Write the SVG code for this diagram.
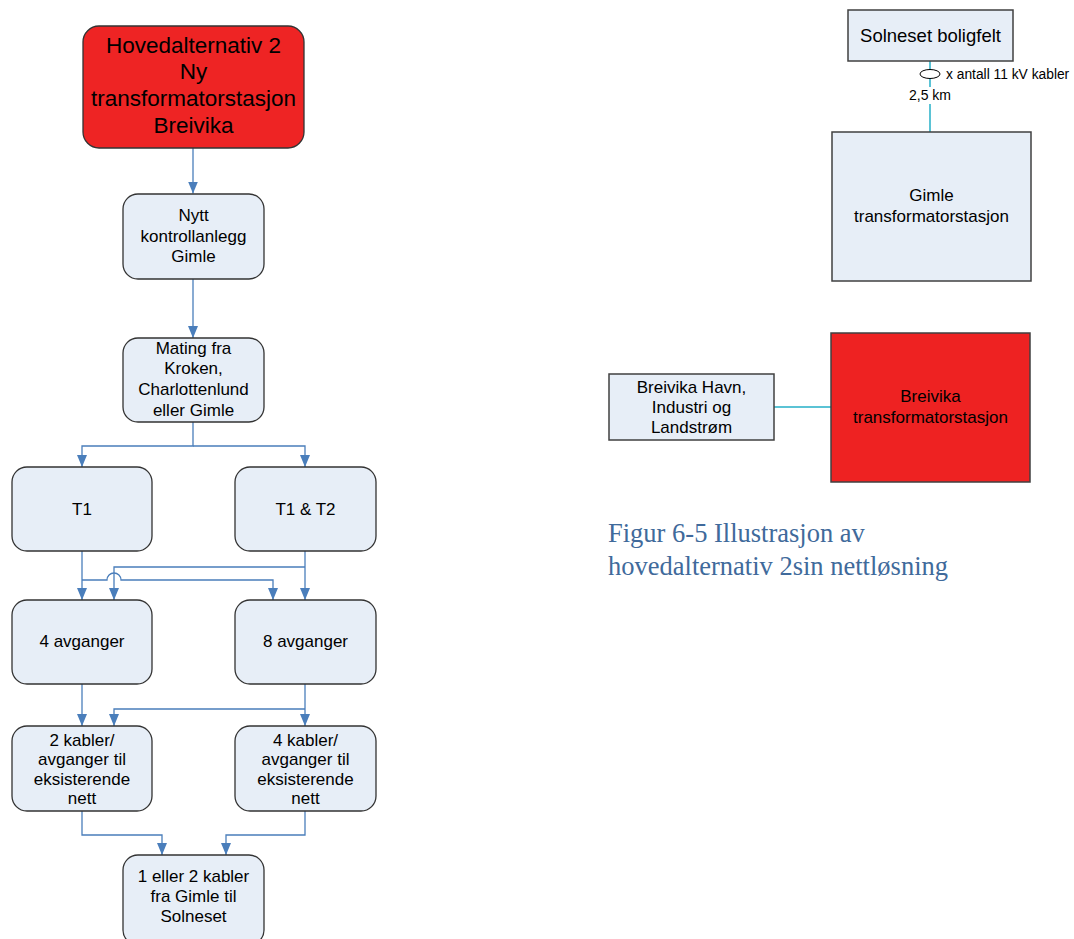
<svg xmlns="http://www.w3.org/2000/svg" width="1074" height="939" viewBox="0 0 1074 939">
<style>
.box{fill:#e7eef7;stroke:#333;stroke-width:1.3}
.red{fill:#ee2424;stroke:#333;stroke-width:1.3}
.rbox{fill:#e7eef7;stroke:#404040;stroke-width:1.5}
.rred{fill:#ee2222;stroke:#404040;stroke-width:1.5}
.t{font-family:"Liberation Sans",Arial,sans-serif;font-size:17px;fill:#000;text-anchor:middle}
.big{font-size:22.5px}
.con{fill:none;stroke:#4a7ebb;stroke-width:1.3}
.cab{fill:none;stroke:#5bc3d5;stroke-width:2}
.cap{font-family:"Liberation Serif","Times New Roman",serif;font-size:26.5px;fill:#406a9b}
</style>
<defs>
<marker id="ah" viewBox="0 0 12 10" markerWidth="12" markerHeight="10" markerUnits="userSpaceOnUse" refX="12" refY="5" orient="auto">
<path d="M0,0 L12,5 L0,10 z" fill="#4a7ebb"/>
</marker>
</defs>
<rect width="1074" height="939" fill="#fff"/>

<g id="connectors">
<path class="con" d="M193,148 V193.5" marker-end="url(#ah)"/>
<path class="con" d="M193,279 V338" marker-end="url(#ah)"/>
<path class="con" d="M193,422 V446 H82 V467" marker-end="url(#ah)"/>
<path class="con" d="M193,446 H305 V467" marker-end="url(#ah)"/>
<path class="con" d="M82,551 V600" marker-end="url(#ah)"/>
<path class="con" d="M82,580 H107 A7,7 0 0 1 121,580 H273 V600" marker-end="url(#ah)"/>
<path class="con" d="M305,551 V600" marker-end="url(#ah)"/>
<path class="con" d="M305,567 H114 V600" marker-end="url(#ah)"/>
<path class="con" d="M82,684 V726" marker-end="url(#ah)"/>
<path class="con" d="M305,684 V726" marker-end="url(#ah)"/>
<path class="con" d="M305,709 H114 V726" marker-end="url(#ah)"/>
<path class="con" d="M82,811 V835 H162 V855" marker-end="url(#ah)"/>
<path class="con" d="M305,811 V835 H226 V855" marker-end="url(#ah)"/>
<path class="cab" d="M930,61 V132"/>
<path class="cab" d="M774,407 H831"/>
<rect x="911" y="87" width="38" height="17" fill="#fff"/>
<ellipse cx="930" cy="74" rx="10" ry="4.5" fill="#fff" stroke="#000" stroke-width="1"/>
<text x="946" y="78.5" style="font-family:'Liberation Sans',Arial,sans-serif;font-size:13.8px;fill:#000">x antall 11 kV kabler</text>
<text x="930" y="100" class="t" style="font-size:14px">2,5 km</text>
</g>

<g id="n-hoved">
<rect class="red" x="83" y="26" width="221" height="122" rx="16"/>
<text class="t big" x="193.5" y="52.5">Hovedalternativ 2</text>
<text class="t big" x="193.5" y="79">Ny</text>
<text class="t big" x="193.5" y="105.5">transformatorstasjon</text>
<text class="t big" x="193.5" y="132.5">Breivika</text>
</g>
<g id="n-kontroll">
<rect class="box" x="123" y="194" width="141" height="85" rx="15"/>
<text class="t" x="193.5" y="221">Nytt</text>
<text class="t" x="193.5" y="241.5">kontrollanlegg</text>
<text class="t" x="193.5" y="262">Gimle</text>
</g>
<g id="n-mating">
<rect class="box" x="123" y="338" width="141" height="84" rx="15"/>
<text class="t" x="193.5" y="353.5">Mating fra</text>
<text class="t" x="193.5" y="374">Kroken,</text>
<text class="t" x="193.5" y="395">Charlottenlund</text>
<text class="t" x="193.5" y="415.5">eller Gimle</text>
</g>
<g id="n-t1">
<rect class="box" x="12" y="467" width="140" height="84" rx="15"/>
<text class="t" x="82" y="514.5">T1</text>
</g>
<g id="n-t1t2">
<rect class="box" x="235" y="467" width="141" height="84" rx="15"/>
<text class="t" x="305.5" y="514.5">T1 &amp; T2</text>
</g>
<g id="n-4avg">
<rect class="box" x="12" y="600" width="140" height="84" rx="15"/>
<text class="t" x="82" y="647">4 avganger</text>
</g>
<g id="n-8avg">
<rect class="box" x="235" y="600" width="141" height="84" rx="15"/>
<text class="t" x="305.5" y="647">8 avganger</text>
</g>
<g id="n-2kab">
<rect class="box" x="12" y="726" width="140" height="85" rx="15"/>
<text class="t" x="82" y="745.5">2 kabler/</text>
<text class="t" x="82" y="765">avganger til</text>
<text class="t" x="82" y="784.5">eksisterende</text>
<text class="t" x="82" y="804">nett</text>
</g>
<g id="n-4kab">
<rect class="box" x="235" y="726" width="141" height="85" rx="15"/>
<text class="t" x="305.5" y="745.5">4 kabler/</text>
<text class="t" x="305.5" y="765">avganger til</text>
<text class="t" x="305.5" y="784.5">eksisterende</text>
<text class="t" x="305.5" y="804">nett</text>
</g>
<g id="n-solneset-kab">
<rect class="box" x="123" y="855" width="141" height="90" rx="15"/>
<text class="t" x="193.5" y="882">1 eller 2 kabler</text>
<text class="t" x="193.5" y="902">fra Gimle til</text>
<text class="t" x="193.5" y="922">Solneset</text>
</g>

<g id="n-solneset">
<rect class="rbox" x="848" y="10" width="165" height="51"/>
<text class="t" x="930.5" y="41.5" style="font-size:18.5px">Solneset boligfelt</text>
</g>
<g id="n-gimle">
<rect class="rbox" x="832" y="132" width="199" height="149"/>
<text class="t" x="931.5" y="201">Gimle</text>
<text class="t" x="931.5" y="222">transformatorstasjon</text>
</g>
<g id="n-breivika">
<rect class="rred" x="831" y="333" width="199" height="149"/>
<text class="t" x="930.5" y="402">Breivika</text>
<text class="t" x="930.5" y="422.5">transformatorstasjon</text>
</g>
<g id="n-havn">
<rect class="rbox" x="609" y="374" width="165" height="66"/>
<text class="t" x="691.5" y="392.5">Breivika Havn,</text>
<text class="t" x="691.5" y="413">Industri og</text>
<text class="t" x="691.5" y="433">Landstrøm</text>
</g>

<g id="caption">
<text class="cap" x="608" y="542">Figur 6-5 Illustrasjon av</text>
<text class="cap" x="608" y="575">hovedalternativ 2sin nettløsning</text>
</g>
</svg>
